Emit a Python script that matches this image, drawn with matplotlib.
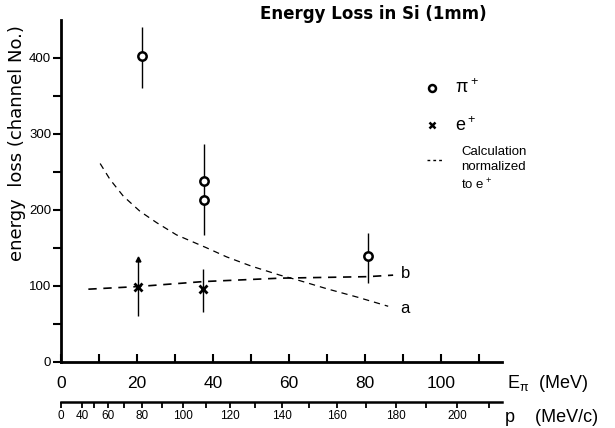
import numpy as np
import matplotlib
matplotlib.use("Agg")
import matplotlib.pyplot as plt

plt.rcParams['font.family'] = ['Liberation Sans', 'DejaVu Sans']
plt.rcParams['mathtext.fontset'] = 'custom'
plt.rcParams['mathtext.rm'] = 'Liberation Sans'
plt.rcParams['mathtext.it'] = 'Liberation Sans'
plt.rcParams['mathtext.bf'] = 'Liberation Sans:bold'

# pi+ measurements (kinetic energy in MeV, energy loss in channel no.)
pi_E = [21.2, 37.7, 37.7, 80.7]
pi_y = [402, 238, 213, 139]
pi_lo = [360, 238, 167, 103]
pi_hi = [441, 287, 238, 170]

# e+ measurements
e_E = [20.3, 37.4]
e_y = [99, 95.5]
e_lo = [60, 65]
e_hi = [135, 122]

# calculation normalized to e+ : curve a (pions), curve b (electrons)
a_E = [10.3, 12.9, 16.4, 20.8, 25.2, 30.4, 38.3, 43.6, 50, 57.6, 62, 70, 78, 86.1]
a_y = [261, 240, 218, 198, 183, 167, 150, 138, 126, 114, 108, 96, 85, 73]
b_E = [7.2, 20.3, 37.4, 57.6, 80.7, 87.4]
b_y = [95.5, 99, 105.5, 110, 112, 114]

p_major = [0, 40, 60, 80, 100, 120, 140, 160, 180, 200]
p_minor = [50, 70, 90, 110, 130, 150, 170, 190, 210]

M_PI = 139.57


def e_to_p(E):
    E = np.clip(np.asarray(E, dtype=float), 0, None)
    return np.sqrt(E**2 + 2 * E * M_PI)


def p_to_e(p):
    p = np.asarray(p, dtype=float)
    return np.sqrt(p**2 + M_PI**2) - M_PI


fig = plt.figure(figsize=(6.15, 4.28), dpi=100)
ax = fig.add_axes([61 / 615, 66.3 / 428, 440.8 / 615, 341.7 / 428])

# calculated curves
ax.plot(a_E, a_y, color='black', lw=0.9, ls=(0, (5, 4)))
ax.plot(b_E, b_y, color='black', lw=1.2, ls=(0, (5, 4)))

# error bars
ax.vlines(pi_E, pi_lo, pi_hi, color='black', lw=1.0)
ax.vlines(e_E, e_lo, e_hi, color='black', lw=1.0)
ax.plot(e_E[0], e_hi[0], marker='^', ms=3.5, color='black')

ax.plot(pi_E, pi_y, 'o', ms=6, mfc='white', mec='black', mew=1.8, ls='none')
ax.plot(e_E, e_y, 'x', ms=6, color='black', mew=2.0, ls='none')

ax.text(89.2, 69.5, 'a', fontsize=12, va='center', ha='left')
ax.text(89.5, 115.6, 'b', fontsize=12, va='center', ha='left')

ax.set_xlim(0, 116)
ax.set_ylim(0, 450)
for s in ['top', 'right']:
    ax.spines[s].set_visible(False)
ax.spines['left'].set_linewidth(2)
ax.spines['bottom'].set_linewidth(2)

ax.set_xticks([0, 20, 40, 60, 80, 100])
ax.set_xticks([10, 30, 50, 70, 90, 110], minor=True)
ax.tick_params(axis='x', which='both', direction='in', length=6, width=1.5,
               pad=10, labelsize=12.5)
ax.set_yticks([0, 100, 200, 300, 400])
ax.set_yticks([50, 150, 250, 350], minor=True)
ax.tick_params(axis='y', which='both', direction='out', length=6, width=1.5,
               pad=1, labelsize=9.5)

# momentum axis
sec = ax.secondary_xaxis(-0.117, functions=(e_to_p, p_to_e))
sec.set_xticks(p_major)
sec.set_xticks(p_minor, minor=True)
sec.spines['bottom'].set_linewidth(1.8)
sec.tick_params(axis='x', which='both', direction='out', length=4, width=1.3,
                pad=2, labelsize=8.5)

# legend drawn by hand
ax.plot([0.842], [0.801], 'o', ms=5, mfc='white', mec='black', mew=1.8,
        transform=ax.transAxes, clip_on=False)
ax.text(0.894, 0.801, r'$\pi^+$', fontsize=13, va='center', transform=ax.transAxes)
ax.plot([0.842], [0.692], 'x', ms=5, color='black', mew=1.8,
        transform=ax.transAxes, clip_on=False)
ax.text(0.894, 0.692, r'$e^+$', fontsize=13, va='center', transform=ax.transAxes)
ax.plot([0.831, 0.864], [0.590, 0.590], color='black', lw=1, ls=(0, (2, 2.2)),
        transform=ax.transAxes, clip_on=False)
ax.text(0.908, 0.632, 'Calculation\nnormalized\nto $e^+$', fontsize=9.5,
        va='top', ha='left', linespacing=1.35, transform=ax.transAxes)

fig.text(373 / 615, 1 - 14 / 428, 'Energy Loss in Si (1mm)', fontsize=12,
         fontweight='bold', ha='center', va='center', family='DejaVu Sans')
fig.text(17 / 615, 1 - 143 / 428, 'energy  loss (channel No.)', fontsize=13,
         rotation=90, ha='center', va='center', family='DejaVu Sans')
fig.text(507 / 615, 1 - 383 / 428, r'E$_\pi$  (MeV)', fontsize=13,
         ha='left', va='center')
fig.text(505 / 615, 1 - 418 / 428, 'p    (MeV/c)', fontsize=13,
         ha='left', va='center')

fig.savefig('out.png', dpi=100)
